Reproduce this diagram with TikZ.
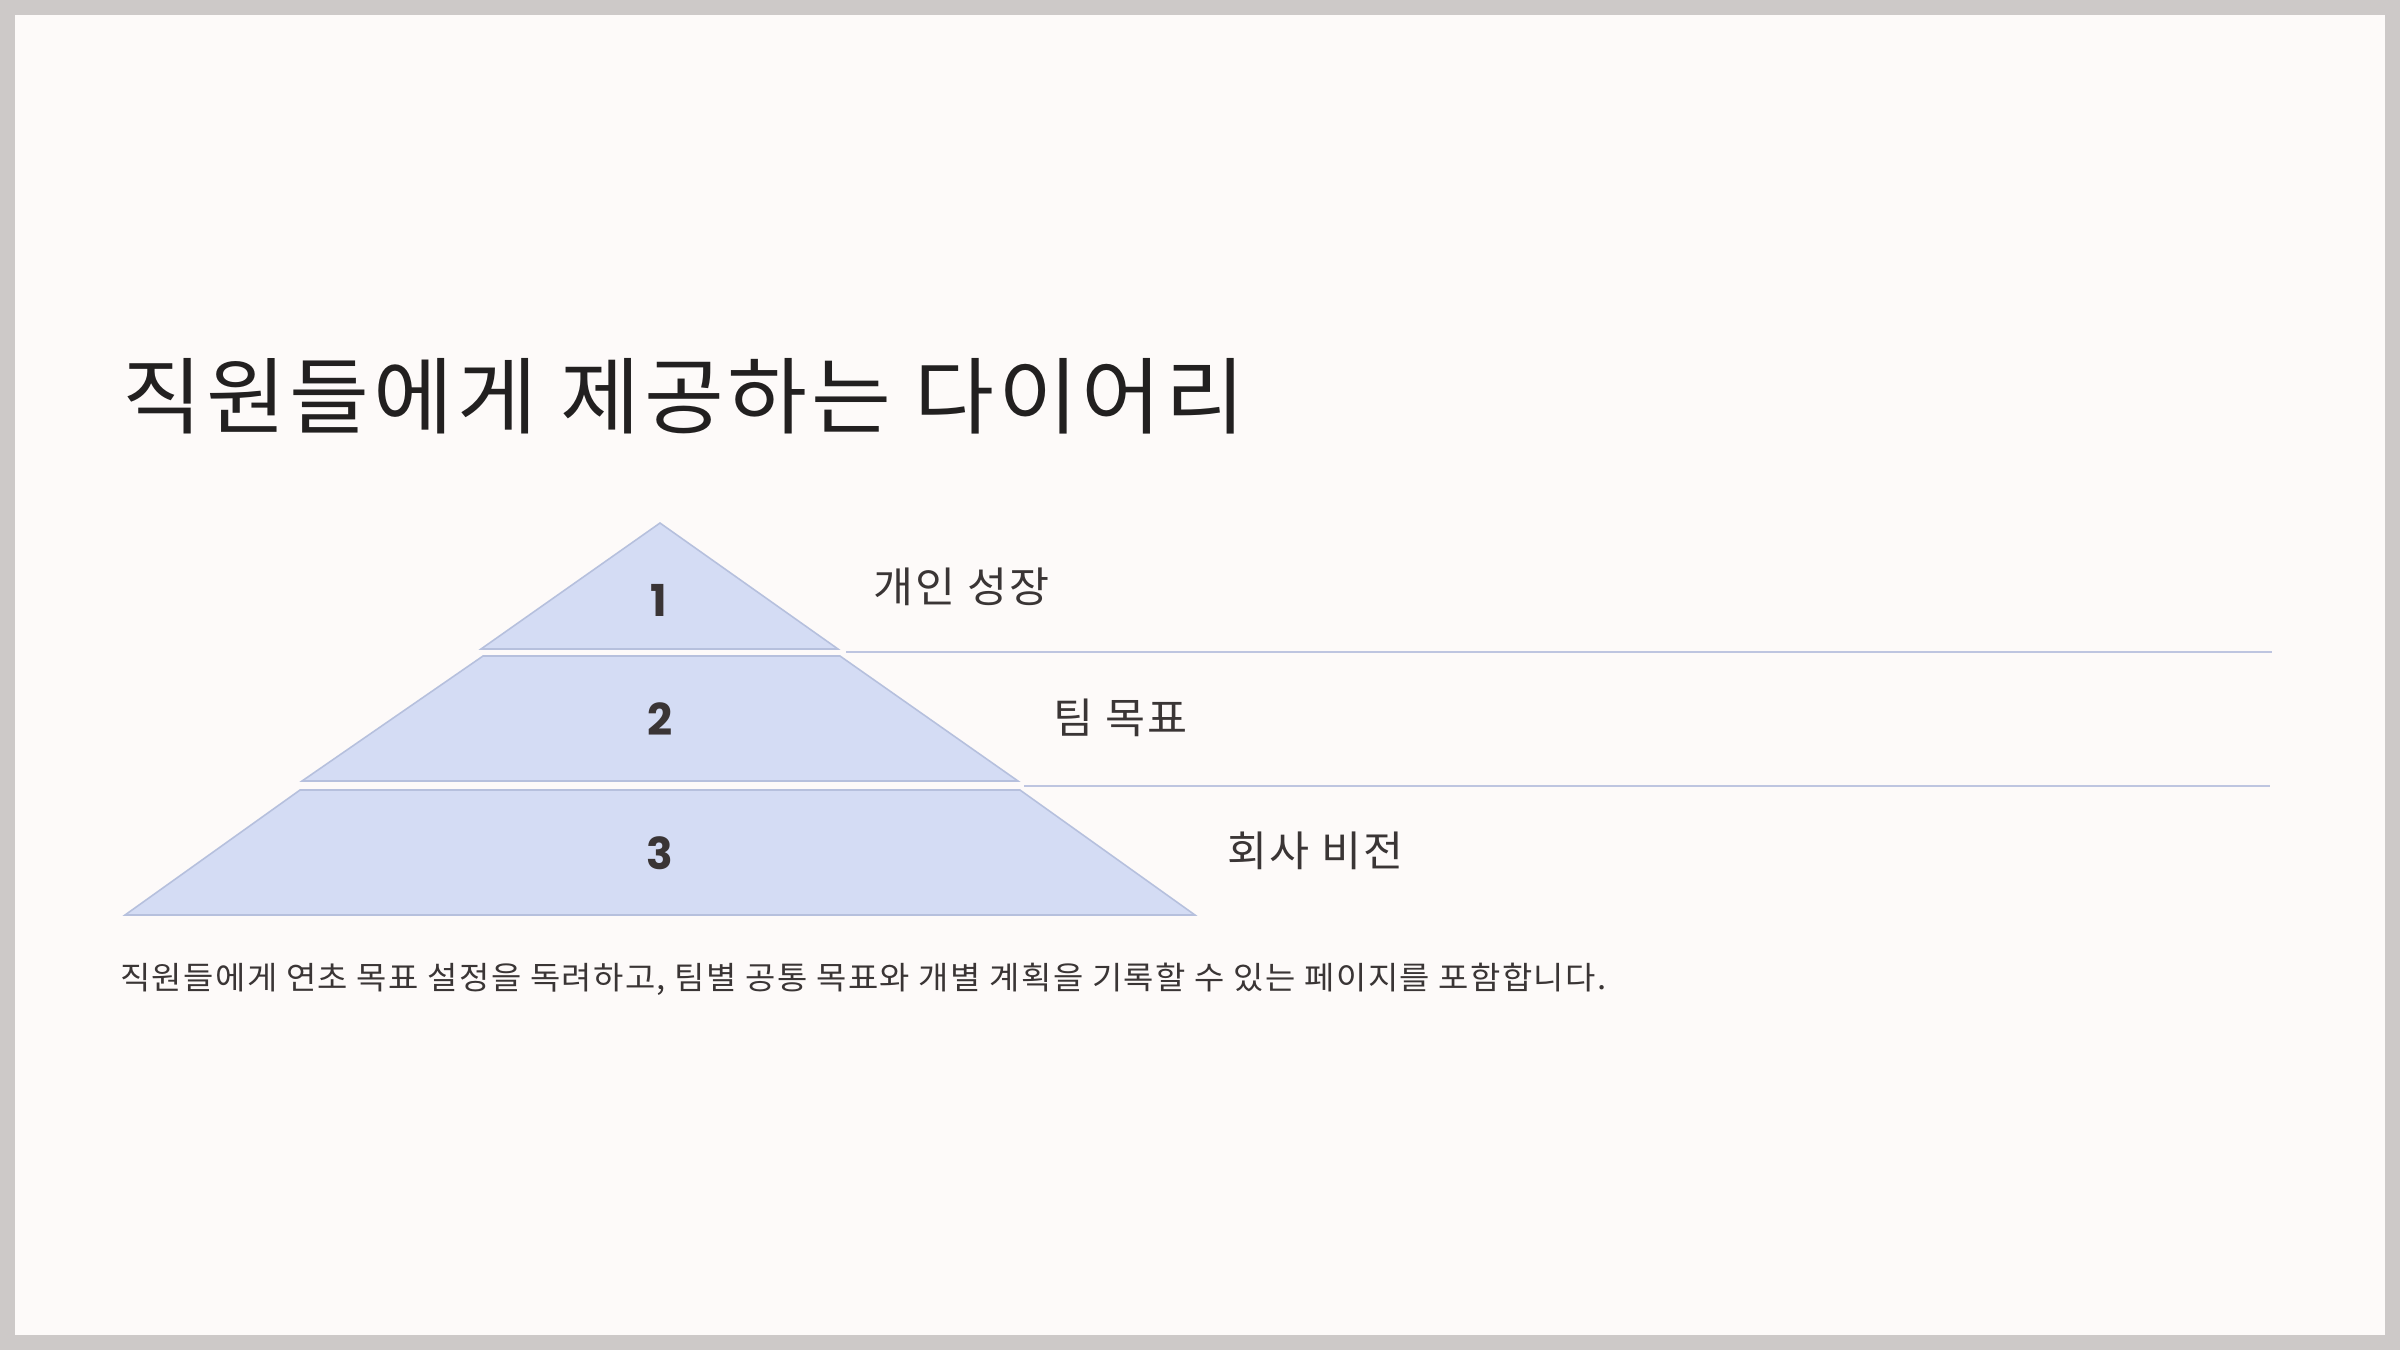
\documentclass[tikz,border=0pt]{standalone}
\usepackage{fontspec}
\setmainfont{Noto Sans CJK KR}[LetterSpace=4.5, FakeStretch=1.04]
\newfontfamily\numfont{Poppins}
\definecolor{framegray}{HTML}{CDC9C8}
\definecolor{paper}{HTML}{FDFAF9}
\definecolor{tierfill}{HTML}{D4DCF4}
\definecolor{tierline}{HTML}{B6C0DD}
\definecolor{sepline}{HTML}{BEC5E0}
\definecolor{titlecol}{HTML}{222020}
\definecolor{textcol}{HTML}{3A3535}
\tikzset{
  tier/.style={fill=tierfill, draw=tierline, line width=0.45pt, line join=miter},
  sep/.style={draw=sepline, line width=0.6pt},
  tiernum/.style={font=\numfont\bfseries\fontsize{12.5pt}{12.5pt}\selectfont, text=textcol, inner sep=0pt, anchor=center},
  tierlabel/.style={font=\fontsize{11.9pt}{12pt}\selectfont, text=textcol, inner sep=0pt, anchor=west},
}
\begin{document}
\begin{tikzpicture}[x=0.01cm, y=-0.01cm]
\useasboundingbox (0,0) rectangle (2400,1350);
\fill[framegray] (0,0) rectangle (2400,1350);
\fill[paper] (15,15) rectangle (2385,1335);

% title
\node[font=\fontsize{23.75pt}{24pt}\selectfont, text=titlecol, inner sep=0pt, anchor=west] (title) at (122,396) {직원들에게 제공하는 다이어리};

% pyramid tiers
\path[tier] (660,523) -- (838,649) -- (481,649) -- cycle;
\path[tier] (483,656) -- (840,656) -- (1018,781) -- (302,781) -- cycle;
\path[tier] (300,790) -- (1020,790) -- (1195,915) -- (125,915) -- cycle;

% numbers
\node[tiernum] (n1) at (659,600.5) {1};
\node[tiernum] (n2) at (660,719) {2};
\node[tiernum] (n3) at (660,853) {3};

% separator lines
\coordinate (s1a) at (846,652);
\coordinate (s1b) at (2272,652);
\coordinate (s2a) at (1024,786);
\coordinate (s2b) at (2270,786);
\draw[sep] (s1a) -- (s1b);
\draw[sep] (s2a) -- (s2b);

% labels
\node[tierlabel] (l1) at (873,586.5) {개인 성장};
\node[tierlabel] (l2) at (1053,717.5) {팀 목표};
\node[tierlabel] (l3) at (1227,851) {회사 비전};

% description
\node[font=\fontsize{9pt}{10pt}\selectfont, text=textcol, inner sep=0pt, anchor=west] (desc) at (119.5,979) {직원들에게 연초 목표 설정을 독려하고, 팀별 공통 목표와 개별 계획을 기록할 수 있는 페이지를 포함합니다.};
\end{tikzpicture}
\end{document}
